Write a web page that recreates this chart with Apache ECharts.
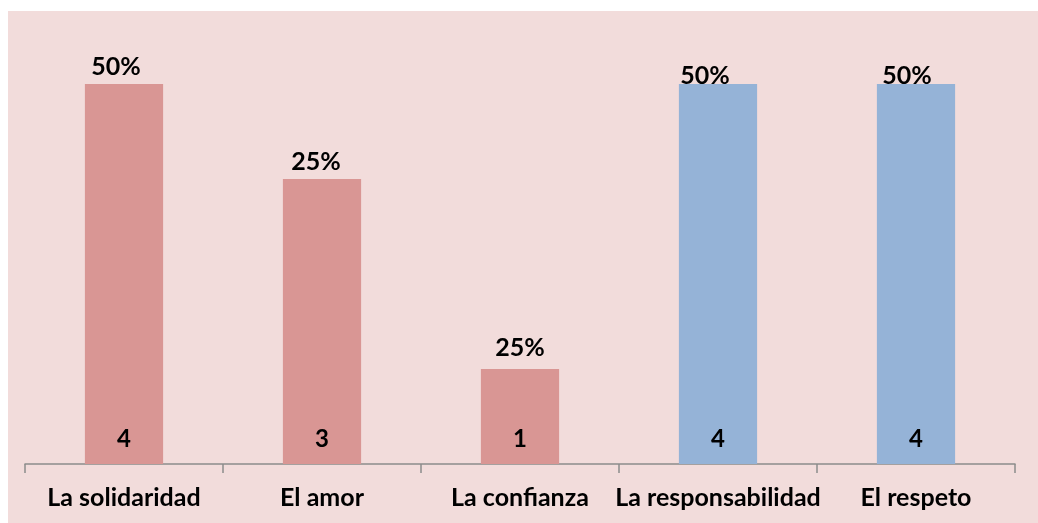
<!DOCTYPE html>
<html>
<head>
<meta charset="utf-8">
<script src="https://cdn.jsdelivr.net/npm/echarts@6/dist/echarts.min.js"></script>
<style>
  html, body { margin: 0; padding: 0; background: #ffffff; }
  #chart { position: absolute; left: 8px; top: 11px; width: 1030px; height: 512px; background: #f2dcdb; }
</style>
</head>
<body>
<div id="chart"></div>
<script>
var categories = ['La solidaridad', 'El amor', 'La confianza', 'La responsabilidad', 'El respeto'];
var counts = [4, 3, 1, 4, 4];
var percents = ['50%', '25%', '25%', '50%', '50%'];

// look of the bars and where the percent labels sit
var barColors = ['#d99694', '#d99694', '#d99694', '#95b3d7', '#95b3d7'];
var pctOffsets = [[-8, 0], [-6, 0], [0, -4], [-13, 9], [-9, 9]];

var chart = echarts.init(document.getElementById('chart'));

var data = [];
var pctData = [];
for (var i = 0; i < counts.length; i++) {
	data.push({
		value: counts[i],
		itemStyle: { color: barColors[i] }
	});
	pctData.push({
		value: counts[i],
		label: { offset: pctOffsets[i] }
	});
}

var font = 'Lato';

var option = {
	animation: false,
	grid: { left: 17, right: 23, top: 73, bottom: 59 },
	xAxis: {
		type: 'category',
		data: categories,
		axisLine: { lineStyle: { color: '#8c8c8c', width: 1.5 } },
		axisTick: { show: true, interval: 0, length: 9, lineStyle: { color: '#8c8c8c', width: 1.5 } },
		axisLabel: {
			interval: 0,
			hideOverlap: false,
			color: '#000',
			fontFamily: font,
			fontWeight: 'bold',
			fontSize: 25,
			margin: 21
		}
	},
	yAxis: {
		type: 'value',
		min: 0,
		max: 4,
		show: false
	},
	series: [{
		type: 'bar',
		data: data,
		barWidth: '39.5%',
		label: {
			show: true,
			position: 'insideBottom',
			distance: 13,
			color: '#000',
			fontFamily: font,
			fontWeight: 'bold',
			fontSize: 24
		}
	}, {
		// percentage labels above the bars
		type: 'bar',
		data: pctData,
		barGap: '-100%',
		barWidth: '39.5%',
		itemStyle: { color: 'transparent' },
		label: {
			show: true,
			position: 'top',
			distance: 5,
			color: '#000',
			fontFamily: font,
			fontWeight: 'bold',
			fontSize: 25,
			formatter: function(p) {
				return percents[p.dataIndex];
			}
		}
	}]
};

chart.setOption(option);
</script>
</body>
</html>
